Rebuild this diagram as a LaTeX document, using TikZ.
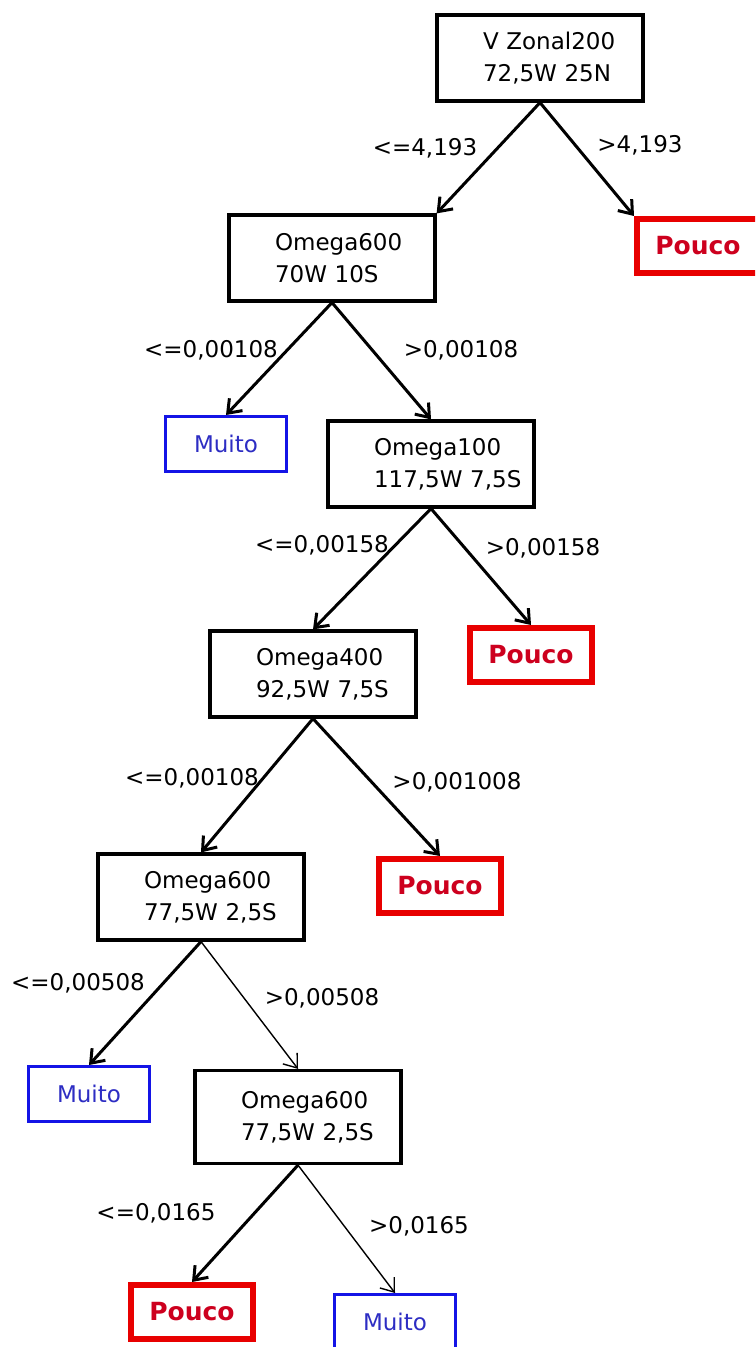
\documentclass[tikz,border=0pt]{standalone}
\usepackage{fontspec}
\setmainfont{DejaVu Sans}
\usetikzlibrary{arrows.meta}
\definecolor{leafred}{RGB}{232,0,0}
\definecolor{leafredtext}{RGB}{205,0,30}
\definecolor{leafblue}{RGB}{20,20,230}
\definecolor{leafbluetext}{RGB}{45,45,195}
\tikzset{
  test/.style={draw,line width=1.6pt,minimum width=103pt,minimum height=43pt,
    inner xsep=23pt,text width=57pt,align=left,font=\fontsize{11.5}{16}\selectfont},
  pouco/.style={draw=leafred,line width=3pt,minimum width=61pt,minimum height=27pt,
    text=leafredtext,font=\fontsize{12.5}{15}\selectfont\bfseries},
  muito/.style={draw=leafblue,line width=1.5pt,minimum width=60.5pt,minimum height=27.5pt,
    text=leafbluetext,font=\fontsize{11.5}{13}\selectfont},
  cond/.style={font=\fontsize{11.5}{13}\selectfont},
  branch/.style={->,line width=1.5pt},
  thinbranch/.style={->,line width=0.7pt},
  >={Straight Barb[length=6pt,width=9pt]}
}
\begin{document}
\begin{tikzpicture}[x=0.5pt,y=-0.5pt]
  \clip (0,0) rectangle (755,1347);
  % tests
  \node[test] (vzonal) at (540,58) {V~Zonal200\\72,5W~25N};
  \node[test] (om600a) at (332,258) {Omega600\\70W~10S};
  \node[test] (om100) at (431,464) {Omega100\\117,5W~7,5S};
  \node[test] (om400) at (313,674) {Omega400\\92,5W~7,5S};
  \node[test] (om600b) at (201,897) {Omega600\\77,5W~2,5S};
  \node[test,minimum height=46.5pt] (om600c) at (298,1117) {Omega600\\77,5W~2,5S};
  % leaves
  \node[pouco] (pouco1) at (698,246) {Pouco};
  \node[muito] (muito1) at (226,444) {Muito};
  \node[pouco] (pouco2) at (531,655) {Pouco};
  \node[pouco] (pouco3) at (440,886) {Pouco};
  \node[muito] (muito2) at (89,1094) {Muito};
  \node[pouco] (pouco4) at (192,1312) {Pouco};
  \node[muito] (muito3) at (395,1322) {Muito};
  % branches
  \draw[branch] (vzonal.south) -- (om600a.north east);
  \draw[branch] (vzonal.south) -- (pouco1.north west);
  \draw[branch] (om600a.south) -- (muito1.north);
  \draw[branch] (om600a.south) -- (om100.north);
  \draw[branch] (om100.south) -- (om400.north);
  \draw[branch] (om100.south) -- (pouco2.north);
  \draw[branch] (om400.south) -- (om600b.north);
  \draw[branch] (om400.south) -- (pouco3.north);
  \draw[branch] (om600b.south) -- (muito2.north);
  \draw[thinbranch] (om600b.south) -- (om600c.north);
  \draw[branch] (om600c.south) -- (pouco4.north);
  \draw[thinbranch] (om600c.south) -- (muito3.north);
  % split values
  \node[cond] (le1) at (425,148) {<=4,193};
  \node[cond] (gt1) at (640,145) {>4,193};
  \node[cond] (le2) at (211,350) {<=0,00108};
  \node[cond] (gt2) at (461,350) {>0,00108};
  \node[cond] (le3) at (322,545) {<=0,00158};
  \node[cond] (gt3) at (543,548) {>0,00158};
  \node[cond] (le4) at (192,778) {<=0,00108};
  \node[cond] (gt4) at (457,782) {>0,001008};
  \node[cond] (le5) at (78,983) {<=0,00508};
  \node[cond] (gt5) at (322,998) {>0,00508};
  \node[cond] (le6) at (156,1213) {<=0,0165};
  \node[cond] (gt6) at (419,1226) {>0,0165};
\end{tikzpicture}
\end{document}
